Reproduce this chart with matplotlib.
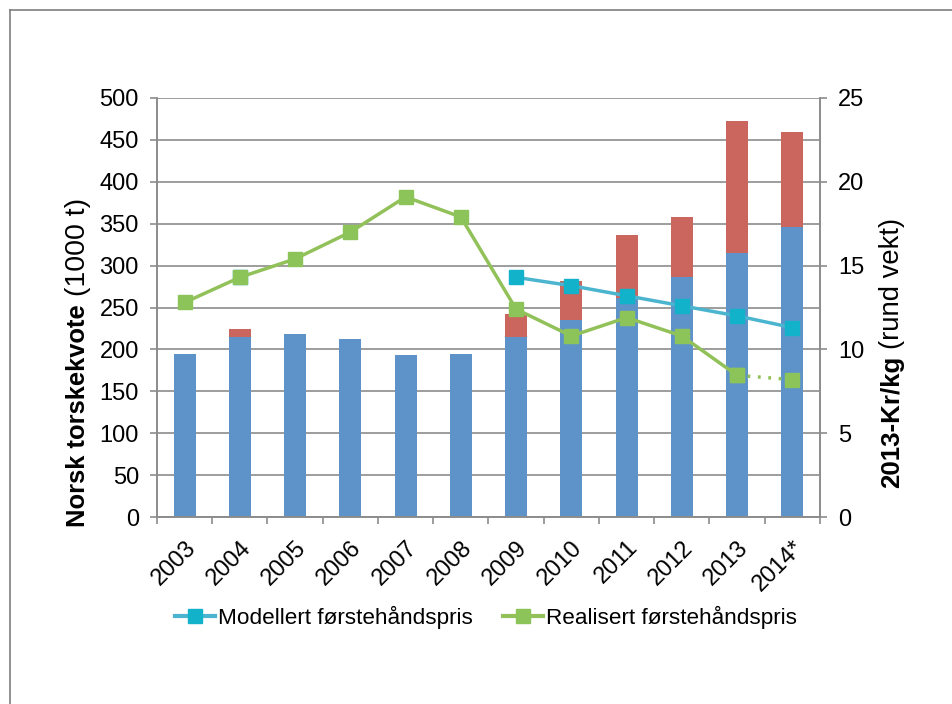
import matplotlib
matplotlib.use('Agg')
import matplotlib.pyplot as plt
import matplotlib.transforms as mtransforms
from matplotlib.lines import Line2D
import numpy as np

plt.rcParams['font.family'] = ['Liberation Sans', 'DejaVu Sans']
plt.rcParams['font.size'] = 17

# Data
years = ['2003', '2004', '2005', '2006', '2007', '2008', '2009', '2010',
         '2011', '2012', '2013', '2014*']
kvote_base = [195, 215, 218, 213, 193, 195, 215, 235, 261, 286, 315, 346]
kvote_total = [195, 224, 218, 213, 193, 195, 242, 282, 337, 358, 473, 459]
modellert = [np.nan, 14.3, np.nan, np.nan, np.nan, np.nan,
             14.3, 13.8, 13.2, 12.6, 12.0, 11.3]
realisert = [12.8, 14.3, 15.4, 17.0, 19.1, 17.9,
             12.4, 10.8, 11.9, 10.8, 8.45, np.nan]
realisert_2014 = 8.2

BLUE = '#5E93C9'
RED = '#CB665F'
CYAN_LINE = '#4BB5D0'
CYAN_MK = '#12B2CB'
GREEN_LINE = '#92C15A'
GREEN_MK = '#8CC45A'
GRID = '#8C8C8C'

fig = plt.figure(figsize=(9.53, 7.04), dpi=100)
W, H = 953, 704
ax = fig.add_axes([157 / W, 1 - 517 / H, (820 - 157) / W, (517 - 98) / H])
ax2 = ax.twinx()

x = np.arange(len(years))
top = np.array(kvote_total) - np.array(kvote_base)
ax.bar(x, kvote_base, width=0.4, color=BLUE, zorder=2)
ax.bar(x, top, bottom=kvote_base, width=0.4, color=RED, zorder=2)

ax.set_xlim(-0.5, len(years) - 0.5)
ax.set_ylim(0, 500)
ax.set_yticks(range(0, 501, 50))
ax.yaxis.grid(True, color=GRID, linewidth=1.2, zorder=0)
ax.set_axisbelow(True)

ax.set_xticks(x)
ax.set_xticklabels(years, rotation=45, ha='right', rotation_mode='anchor')
shift = mtransforms.ScaledTranslation(8 / 100, 0, fig.dpi_scale_trans)
for lbl in ax.get_xticklabels():
    lbl.set_transform(lbl.get_transform() + shift)
ax.tick_params(axis='x', which='major', length=0, pad=14)
ax.set_xticks(np.arange(-0.5, len(years), 1), minor=True)
ax.tick_params(axis='x', which='minor', length=5, color=GRID, width=1.2)
ax.tick_params(axis='y', length=5, color=GRID, width=1.2, pad=8)

for a in (ax, ax2):
    a.spines['top'].set_visible(False)
    for s in ('left', 'right', 'bottom'):
        a.spines[s].set_color(GRID)
        a.spines[s].set_linewidth(1.2)

ax2.set_ylim(0, 25)
ax2.set_yticks(range(0, 26, 5))
ax2.tick_params(axis='y', length=5, color=GRID, width=1.2, pad=8)

ax2.plot(x, modellert, color=CYAN_LINE, linewidth=2.5, marker='s',
         markersize=10.5, markerfacecolor=CYAN_MK, markeredgecolor=CYAN_MK, zorder=3)
ax2.plot(x, realisert, color=GREEN_LINE, linewidth=2.5, marker='s',
         markersize=10.5, markerfacecolor=GREEN_MK, markeredgecolor=GREEN_MK, zorder=4)
ax2.plot(x[-2:], [realisert[-2], realisert_2014], color=GREEN_LINE, linewidth=2.5,
         linestyle=(0, (0.8, 2.2)), marker='s', markersize=10.5,
         markerfacecolor=GREEN_MK, markeredgecolor=GREEN_MK, zorder=4)

# legend
handles = [Line2D([], [], color=CYAN_LINE, linewidth=3, marker='s', markersize=10.5,
                  markerfacecolor=CYAN_MK, markeredgecolor=CYAN_MK),
           Line2D([], [], color=GREEN_LINE, linewidth=3, marker='s', markersize=10.5,
                  markerfacecolor=GREEN_MK, markeredgecolor=GREEN_MK)]
fig.legend(handles, ['Modellert førstehåndspris', 'Realisert førstehåndspris'],
           loc='center', bbox_to_anchor=(486 / W, 1 - 617 / H), ncol=2,
           frameon=False, fontsize=16.2, handlelength=1.78, handletextpad=0.13,
           columnspacing=1.33)

# axis labels with mixed weights
renderer = fig.canvas.get_renderer()
t1 = fig.text(78 / W, 1 - 527 / H, 'Norsk torskekvote', rotation=90, fontweight='bold',
              fontsize=18.4, ha='center', va='bottom')
bb = t1.get_window_extent(renderer)
fig.text(78 / W, (bb.y1 + 8) / H, '(1000 t)', rotation=90, fontsize=20.5,
         ha='center', va='bottom')

t2 = fig.text(892 / W, 1 - 488 / H, '2013-Kr/kg', rotation=90, fontweight='bold',
              fontsize=18.6, ha='center', va='bottom')
bb = t2.get_window_extent(renderer)
fig.text(892 / W, (bb.y1 + 7) / H, '(rund vekt)', rotation=90, fontsize=19.8,
         ha='center', va='bottom')

# outer frame (top and left edges)
fig.add_artist(Line2D([10 / W, 10 / W], [0, 1 - 10 / H], transform=fig.transFigure,
                      color='#7F7F7F', linewidth=1.2))
fig.add_artist(Line2D([10 / W, 1], [1 - 10 / H, 1 - 10 / H], transform=fig.transFigure,
                      color='#7F7F7F', linewidth=1.2))

fig.savefig('out.png', dpi=100, facecolor='white')
